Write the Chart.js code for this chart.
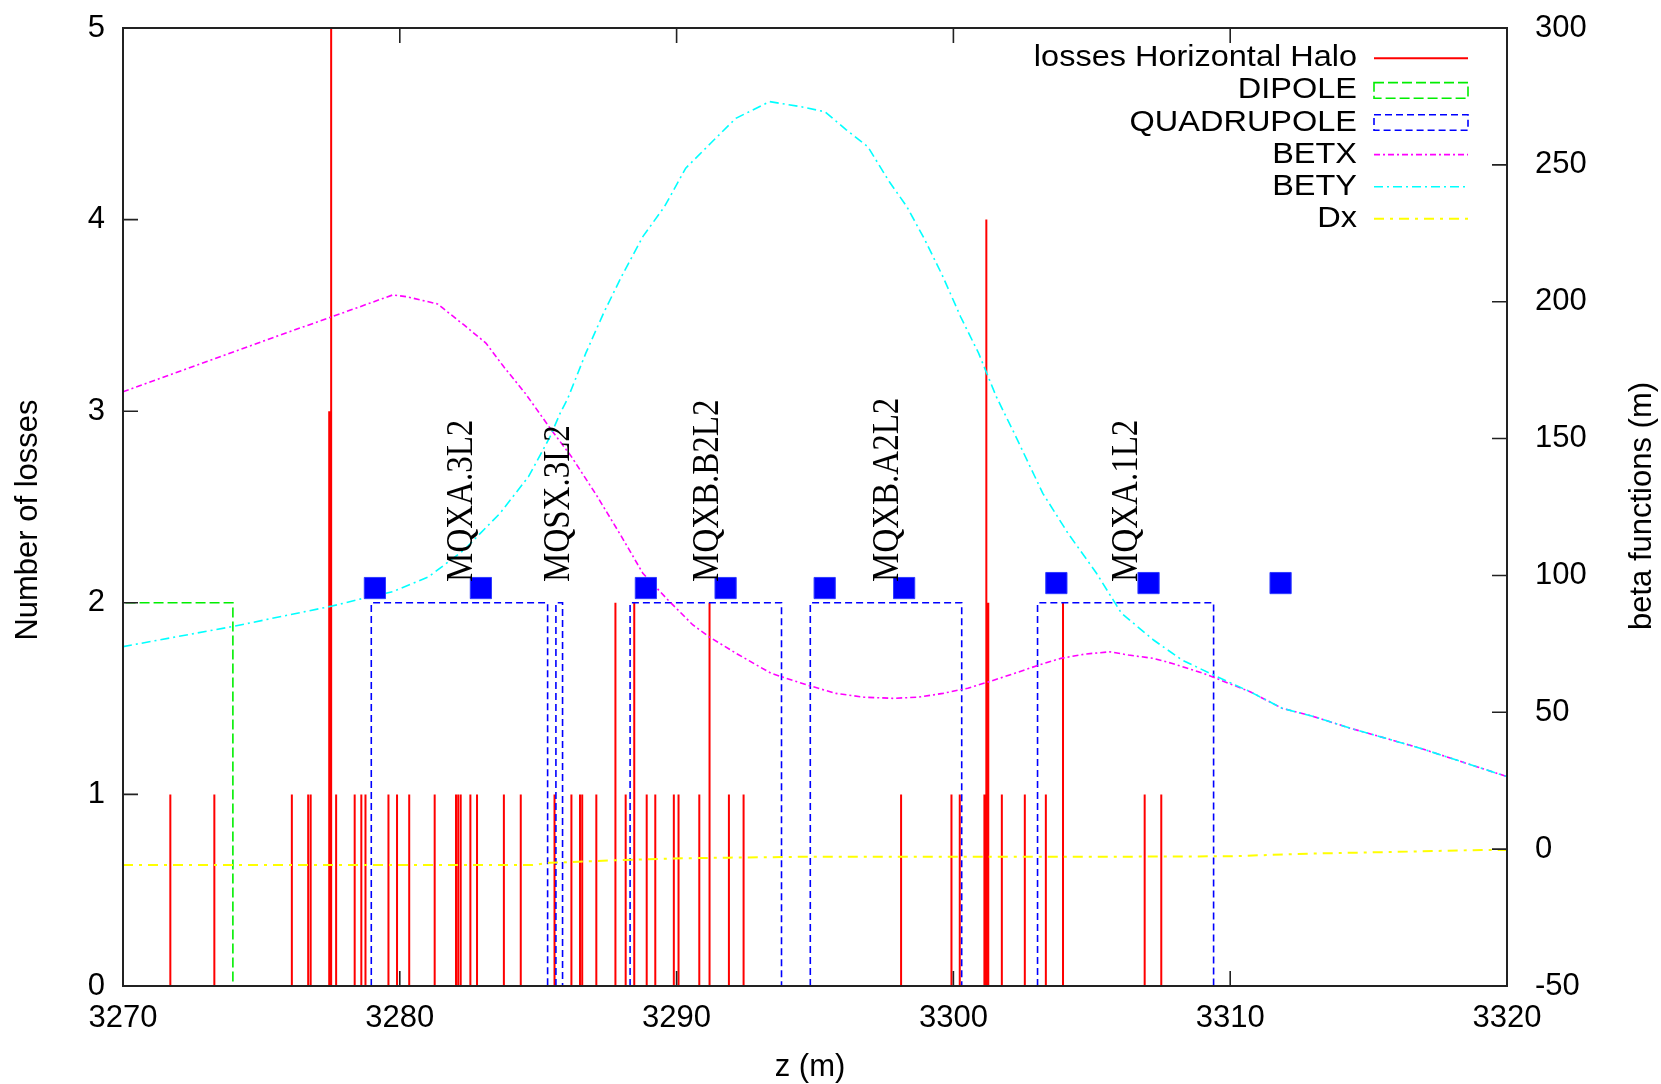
<!DOCTYPE html>
<html>
<head>
<meta charset="utf-8">
<script src="https://cdn.jsdelivr.net/npm/chart.js@4/dist/chart.umd.min.js"></script>
<style>
html,body{margin:0;padding:0;background:#fff;}
#wrap{width:1661px;height:1084px;position:relative;}
</style>
</head>
<body>
<div id="wrap"><canvas id="c" width="1661" height="1084"></canvas></div>
<script>
// ---------------- DATA ----------------
const xTicks = [3270, 3280, 3290, 3300, 3310, 3320];
const yTicks = [0, 1, 2, 3, 4, 5];
const y2Ticks = [-50, 0, 50, 100, 150, 200, 250, 300];

// losses (impulses)
const lossZ = [3271.71, 3273.30, 3276.10, 3276.69, 3276.78, 3277.45, 3277.52, 3277.70, 3278.37, 3278.61,
  3278.76, 3279.59, 3279.90, 3280.34, 3281.26, 3282.03, 3282.11, 3282.20, 3282.55, 3282.79,
  3283.76, 3284.37, 3285.59, 3286.20, 3286.51, 3286.59, 3287.10, 3287.79, 3288.16, 3288.47,
  3288.92, 3289.23, 3289.90, 3290.07, 3290.82, 3291.19, 3291.89, 3292.42, 3298.11, 3299.93,
  3300.23, 3301.12, 3301.19, 3301.26, 3301.75, 3302.58, 3303.34, 3303.96, 3306.91, 3307.51];
const lossCount = [1, 1, 1, 1, 1, 3, 5, 1, 1, 1,
  1, 1, 1, 1, 1, 1, 1, 1, 1, 1,
  1, 1, 1, 1, 1, 1, 1, 2, 1, 2,
  1, 1, 1, 1, 1, 2, 1, 1, 1, 1,
  1, 1, 4, 2, 1, 1, 1, 2, 1, 1];

// DIPOLE element (start is off the left edge)
const dipoleStart = [3262];
const dipoleEnd = [3273.97];
const dipoleHeight = 2;

// QUADRUPOLE elements
const quadStart = [3278.97, 3285.64, 3288.32, 3294.83, 3303.04];
const quadEnd = [3285.34, 3285.88, 3293.79, 3300.30, 3309.40];
const quadHeight = 2;

// blue square markers
const markerZ = [3279.10, 3282.93, 3288.89, 3291.77, 3295.35, 3298.22, 3303.72, 3307.05, 3311.82];
const markerY = [2.077, 2.077, 2.077, 2.077, 2.077, 2.077, 2.103, 2.103, 2.103];

// magnet names
const magnetNames = ['MQXA.3L2', 'MQSX.3L2', 'MQXB.B2L2', 'MQXB.A2L2', 'MQXA.1L2'];
const magnetNameZ = [3282.61, 3286.11, 3291.50, 3298.00, 3306.63];
const magnetNameY = [2.109, 2.109, 2.109, 2.109, 2.109];

// BETX (m)
const betxZ = [3270, 3275.5, 3277.55, 3279.75, 3280.26, 3281.36, 3282.32, 3283.11, 3283.75, 3284.52,
  3285.43, 3286.20, 3287.10, 3288.01, 3288.78, 3289.69, 3290.59, 3291.17, 3292.14, 3293.42,
  3294.71, 3295.75, 3296.78, 3297.81, 3298.72, 3299.62, 3300.52, 3301.30, 3302.20, 3303.10,
  3303.88, 3304.78, 3305.66, 3306.33, 3307.23, 3307.88, 3309.04, 3310.72, 3311.87, 3313.03,
  3314.33, 3315.62, 3316.89, 3320];
const betxV = [167.1, 187.2, 194.5, 202.5, 201.8, 199.2, 191.5, 184.9, 176.3, 166.7,
  153.8, 143.4, 129.4, 114.2, 100.8, 91.0, 81.9, 77.6, 71.6, 64.2,
  60.0, 56.9, 55.5, 55.1, 55.5, 56.9, 58.8, 61.2, 64.2, 67.3,
  69.7, 71.3, 72.1, 70.9, 69.7, 67.9, 64.2, 57.5, 51.5, 48.4,
  44.2, 40.5, 36.8, 26.5];

// BETY (m)
const betyZ = [3270, 3273.94, 3277.55, 3278.71, 3279.75, 3281.04, 3282.32, 3283.62, 3284.65, 3285.43,
  3285.79, 3286.07, 3286.72, 3287.36, 3288.01, 3288.78, 3289.56, 3290.33, 3291.23, 3292.14,
  3293.36, 3294.46, 3295.36, 3296.13, 3296.91, 3297.68, 3298.32, 3298.97, 3299.62, 3300.26,
  3300.91, 3301.55, 3302.20, 3303.23, 3304.14, 3305.17, 3306.07, 3307.23, 3308.26, 3309.40,
  3310.72, 3311.87, 3313.03, 3314.33, 3315.62, 3316.89, 3320];
const betyV = [74.0, 81.3, 88.8, 91.7, 94.1, 99.5, 109.3, 122.7, 136.1, 150.7,
  159.2, 164.7, 181.2, 195.8, 209.2, 223.8, 234.7, 248.8, 257.9, 267.0,
  273.1, 271.3, 269.4, 262.8, 256.6, 243.9, 234.7, 222.6, 209.2, 194.5,
  181.2, 165.3, 151.9, 130.0, 115.4, 100.8, 86.2, 76.4, 69.1, 63.6,
  57.5, 51.5, 48.4, 44.2, 40.5, 36.8, 26.5];

// Dx (m)
const dxZ = [3270, 3284.8, 3285.4, 3288.0, 3289.9, 3291.9, 3293.8, 3294.5, 3300, 3305, 3310, 3313.0, 3316, 3319.1, 3320];
const dxV = [-5.8, -5.8, -5.0, -4.0, -3.4, -3.1, -2.9, -2.8, -2.8, -2.8, -2.6, -1.6, -1.0, -0.3, -0.3];

// ---------------- BUILD ----------------
const impulseData = [];
lossZ.forEach((z, i) => {
  impulseData.push({x: z, y: 0}, {x: z, y: lossCount[i]}, {x: z, y: null});
});
function boxData(starts, ends, h) {
  const d = [];
  starts.forEach((s, i) => {
    d.push({x: s, y: 0}, {x: s, y: h}, {x: ends[i], y: h}, {x: ends[i], y: 0}, {x: ends[i], y: null});
  });
  return d;
}
const zip = (a, b) => a.map((v, i) => ({x: v, y: b[i]}));

const SANS = '"Liberation Sans", Arial, Helvetica, sans-serif';
const SERIF = '"Liberation Serif", "Times New Roman", serif';

const datasets = [
  {label: 'losses Horizontal Halo', key: 'line', data: impulseData, showLine: true, yAxisID: 'y',
   borderColor: '#ff0000', borderWidth: 2, pointRadius: 0, spanGaps: false, order: 6},
  {label: 'DIPOLE', key: 'box', data: boxData(dipoleStart, dipoleEnd, dipoleHeight), showLine: true, yAxisID: 'y',
   borderColor: '#00ee00', borderWidth: 1.6, borderDash: [10, 4], pointRadius: 0, spanGaps: false, order: 5},
  {label: 'QUADRUPOLE', key: 'box', data: boxData(quadStart, quadEnd, quadHeight), showLine: true, yAxisID: 'y',
   borderColor: '#0000ff', borderWidth: 1.6, borderDash: [7, 4], pointRadius: 0, spanGaps: false, order: 4},
  {label: 'BETX', key: 'line', data: zip(betxZ, betxV), showLine: true, yAxisID: 'y2',
   borderColor: '#ff00ff', borderWidth: 1.6, borderDash: [6, 3, 2, 3], pointRadius: 0, order: 3},
  {label: 'BETY', key: 'line', data: zip(betyZ, betyV), showLine: true, yAxisID: 'y2',
   borderColor: '#00ffff', borderWidth: 1.6, borderDash: [9, 4, 2, 4], pointRadius: 0, order: 2},
  {label: 'Dx', key: 'line', data: zip(dxZ, dxV), showLine: true, yAxisID: 'y2',
   borderColor: '#ffff00', borderWidth: 2, borderDash: [10, 6, 3, 6], pointRadius: 0, order: 1},
  {label: '', key: null, data: zip(markerZ, markerY), showLine: false, yAxisID: 'y',
   pointStyle: 'rect', pointRadius: 15, backgroundColor: '#0000ff', borderColor: '#2f3cff', borderWidth: 1, order: 0}
];

// ---------------- PLUGINS ----------------
const framePlugin = {
  id: 'frame',
  afterDatasetsDraw(chart) {
    const {ctx, chartArea: a, scales} = chart;
    ctx.save();
    // magnet names
    ctx.fillStyle = '#000';
    ctx.font = '33px ' + SERIF;
    ctx.textAlign = 'left';
    ctx.textBaseline = 'alphabetic';
    magnetNames.forEach((n, i) => {
      const px = scales.x.getPixelForValue(magnetNameZ[i]);
      const py = scales.y.getPixelForValue(magnetNameY[i]);
      ctx.save();
      ctx.translate(px, py);
      ctx.rotate(-Math.PI / 2);
      ctx.scale(1, 1.12);
      ctx.fillText(n, 0, 0);
      ctx.restore();
    });
    // frame
    ctx.strokeStyle = '#222';
    ctx.lineWidth = 2;
    ctx.strokeRect(a.left, a.top, a.right - a.left, a.bottom - a.top);
    const L = 15;
    ctx.lineWidth = 1.6;
    ctx.beginPath();
    scales.x.ticks.forEach(t => {
      const p = scales.x.getPixelForValue(t.value);
      ctx.moveTo(p, a.bottom); ctx.lineTo(p, a.bottom - L);
      ctx.moveTo(p, a.top); ctx.lineTo(p, a.top + L);
    });
    scales.y.ticks.forEach(t => {
      const p = scales.y.getPixelForValue(t.value);
      ctx.moveTo(a.left, p); ctx.lineTo(a.left + L, p);
    });
    scales.y2.ticks.forEach(t => {
      const p = scales.y2.getPixelForValue(t.value);
      ctx.moveTo(a.right, p); ctx.lineTo(a.right - L, p);
    });
    ctx.stroke();

    // axis titles
    ctx.fillStyle = '#000';
    ctx.font = '31px ' + SANS;
    ctx.textAlign = 'center';
    ctx.textBaseline = 'middle';
    ctx.fillText('z (m)', 810, 1067);
    ctx.save(); ctx.translate(28.5, 520); ctx.rotate(-Math.PI / 2); ctx.fillText('Number of losses', 0, 0); ctx.restore();
    ctx.save(); ctx.translate(1642, 506); ctx.rotate(-Math.PI / 2); ctx.fillText('beta functions (m)', 0, 0); ctx.restore();

    // legend (gnuplot style key)
    const entries = chart.data.datasets.filter(d => d.key);
    const textRight = a.right - 150;
    const sx1 = a.right - 133, sx2 = a.right - 39;
    entries.forEach((d, i) => {
      const yy = a.top + 30.3 + i * 32.1;
      ctx.save();
      ctx.translate(textRight, yy);
      ctx.scale(1.12, 1);
      ctx.font = '29px ' + SANS;
      ctx.textAlign = 'right';
      ctx.textBaseline = 'middle';
      ctx.fillStyle = '#000';
      ctx.fillText(d.label, 0, 0);
      ctx.restore();
      ctx.save();
      ctx.strokeStyle = d.borderColor;
      ctx.lineWidth = d.borderWidth;
      ctx.setLineDash(d.borderDash || []);
      ctx.beginPath();
      if (d.key === 'box') {
        ctx.rect(sx1, yy - 7.8, sx2 - sx1, 15.6);
      } else {
        ctx.moveTo(sx1, yy); ctx.lineTo(sx2, yy);
      }
      ctx.stroke();
      ctx.restore();
    });
    ctx.restore();
  }
};

// ---------------- CHART ----------------
const tickFont = {family: SANS, size: 31};
const noPadV = s => { s.paddingTop = 0; s.paddingBottom = 0; };
new Chart(document.getElementById('c'), {
  type: 'scatter',
  data: {datasets},
  options: {
    responsive: false,
    devicePixelRatio: 1,
    animation: false,
    events: [],
    layout: {padding: {top: 28, left: 0, right: 0, bottom: 0}},
    plugins: {legend: {display: false}, tooltip: {enabled: false}},
    scales: {
      x: {
        type: 'linear', position: 'bottom', min: 3270, max: 3320,
        afterBuildTicks: s => { s.ticks = xTicks.map(v => ({value: v})); },
        afterFit: s => { s.height = 98; s.paddingLeft = 0; s.paddingRight = 0; },
        grid: {display: false, drawTicks: false},
        border: {display: false},
        ticks: {font: tickFont, color: '#000', padding: 14, maxRotation: 0, autoSkip: false,
                callback: v => String(v)}
      },
      y: {
        type: 'linear', position: 'left', min: 0, max: 5,
        afterBuildTicks: s => { s.ticks = yTicks.map(v => ({value: v})); },
        afterFit: s => { s.width = 123; noPadV(s); },
        grid: {display: false, drawTicks: false},
        border: {display: false},
        ticks: {font: tickFont, color: '#000', padding: 18, autoSkip: false, callback: v => String(v)}
      },
      y2: {
        type: 'linear', position: 'right', min: -50, max: 300,
        afterBuildTicks: s => { s.ticks = y2Ticks.map(v => ({value: v})); },
        afterFit: s => { s.width = 154; noPadV(s); },
        grid: {display: false, drawTicks: false},
        border: {display: false},
        ticks: {font: tickFont, color: '#000', padding: 28, autoSkip: false, callback: v => String(v)}
      }
    }
  },
  plugins: [framePlugin]
});
</script>
</body>
</html>
